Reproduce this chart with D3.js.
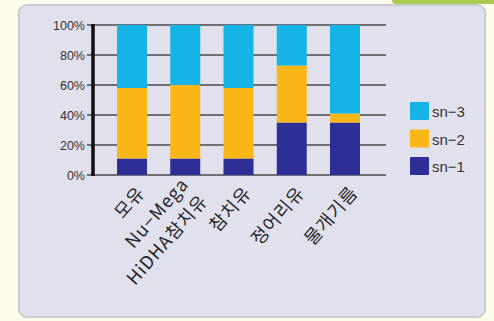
<!DOCTYPE html>
<html><head><meta charset="utf-8">
<script src="https://cdn.jsdelivr.net/npm/d3@7"></script>
<style>body{margin:0;background:#fdfbe9;}svg{display:block;}</style>
</head><body>
<script>
const categories = ["모유", "Nu−Mega\nHiDHA참치유", "참치유", "정어리유", "물개기름"];
const sn1 = [11, 11, 11, 35, 35];
const sn2 = [47, 49, 47, 38, 6];
const sn3 = [42, 40, 42, 27, 59];
const seriesNames = ["sn-1", "sn-2", "sn-3"];
const legendLabels = ["sn−3", "sn−2", "sn−1"];
const tickValues = [0, 20, 40, 60, 80, 100];
const colors = {"sn-1": "#2d2e96", "sn-2": "#fbb717", "sn-3": "#15b3e6"};

const W = 494, H = 321;
const svg = d3.select("body").append("svg").attr("width", W).attr("height", H);

// background decorations
svg.append("rect").attr("x", 0).attr("y", 0).attr("width", W).attr("height", H).attr("fill", "#fdfbe9");
svg.append("rect").attr("x", 392).attr("y", -6).attr("width", 110).attr("height", 10).attr("rx", 4).attr("fill", "#a9cc4e");
svg.append("rect").attr("x", 19).attr("y", 5).attr("width", 466).attr("height", 312).attr("rx", 8)
  .attr("fill", "#e1e1ee").attr("stroke", "#c9c9d6").attr("stroke-width", 2);

const table = categories.map((c, i) => ({cat: c, "sn-1": sn1[i], "sn-2": sn2[i], "sn-3": sn3[i]}));
const stack = d3.stack().keys(seriesNames)(table);

const x = d3.scaleBand().domain(categories).range([105.4, 371.6]).paddingInner(0.437).paddingOuter(0.218);
const y = d3.scaleLinear().domain([0, 100]).range([175, 25]);

// grid lines
svg.append("g").selectAll("line").data(tickValues).join("line")
  .attr("x1", 87).attr("x2", 386).attr("y1", d => y(d)).attr("y2", d => y(d))
  .attr("stroke", "#4a4a4a").attr("stroke-width", 1.5);

// bars
svg.append("g").selectAll("g").data(stack).join("g").attr("fill", d => colors[d.key])
  .selectAll("rect").data(d => d).join("rect")
  .attr("x", d => x(d.data.cat)).attr("width", x.bandwidth())
  .attr("y", d => y(d[1])).attr("height", d => y(d[0]) - y(d[1]));

// y axis
const yAxis = d3.axisLeft(y).tickValues(tickValues).tickFormat(d => d + "%").tickSize(0).tickPadding(8);
const gy = svg.append("g").attr("transform", "translate(93,0)").call(yAxis);
gy.select(".domain").remove();
gy.selectAll("text").attr("font-family", "Liberation Sans, Arial, sans-serif").attr("font-size", 12.5).attr("fill", "#333");
svg.append("line").attr("x1", 93).attr("x2", 93).attr("y1", y(100) - 1).attr("y2", y(0) + 1)
  .attr("stroke", "#111").attr("stroke-width", 3.5);

// x labels
const xl = svg.append("g").selectAll("text").data(categories).join("text")
  .attr("transform", d => `translate(${x(d) + x.bandwidth() / 2 + 9},${189}) rotate(-49)`)
  .attr("text-anchor", "end")
  .attr("font-family", "Noto Sans CJK KR, sans-serif").attr("font-size", 18)
  .attr("letter-spacing", 1).attr("fill", "#262626");
xl.each(function(d) {
  const lines = d.split("\n");
  const t = d3.select(this);
  lines.forEach((ln, i) => {
    t.append("tspan").attr("x", 0)
      .attr("dy", i === 0 ? (0.35 - (lines.length - 1) * 0.7) + "em" : "1.4em")
      .text(ln);
  });
});

// legend
const lg = svg.append("g").selectAll("g").data(legendLabels).join("g")
  .attr("transform", (d, i) => `translate(410,${102 + i * 27.5})`);
lg.append("rect").attr("width", 19).attr("height", 18).attr("rx", 1)
  .attr("fill", (d, i) => colors[seriesNames[2 - i]]);
lg.append("text").attr("x", 22).attr("y", 15).text(d => d)
  .attr("font-family", "Liberation Sans, Arial, sans-serif").attr("font-size", 15).attr("fill", "#333");
</script>
</body></html>
